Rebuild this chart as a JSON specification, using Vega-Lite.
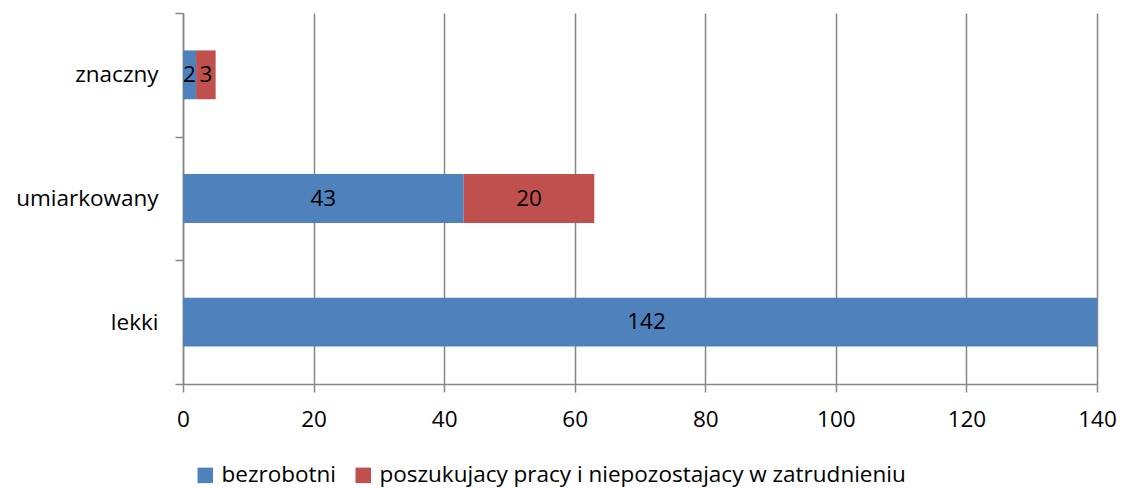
{
  "$schema": "https://vega.github.io/schema/vega-lite/v6.json",
  "width": 914,
  "height": 371,
  "autosize": {"type": "none"},
  "padding": {"left": 183, "top": 13, "right": 28, "bottom": 104},
  "config": {"font": "Open Sans", "view": {"stroke": null}},
  "data": {
    "values": [
      {"cat": "znaczny", "series": "bezrobotni", "value": 2},
      {"cat": "znaczny", "series": "poszukujacy pracy i niepozostajacy w zatrudnieniu", "value": 3},
      {"cat": "umiarkowany", "series": "bezrobotni", "value": 43},
      {"cat": "umiarkowany", "series": "poszukujacy pracy i niepozostajacy w zatrudnieniu", "value": 20},
      {"cat": "lekki", "series": "bezrobotni", "value": 142}
    ]
  },
  "transform": [
    {"stack": "value", "groupby": ["cat"], "sort": [{"field": "series", "order": "ascending"}], "as": ["v0", "v1"]},
    {"calculate": "(datum.v0 + datum.v1) / 2", "as": "vmid"}
  ],
  "encoding": {
    "y": {
      "field": "cat",
      "type": "nominal",
      "sort": ["znaczny", "umiarkowany", "lekki"],
      "scale": {"paddingInner": 0, "paddingOuter": 0},
      "axis": {
        "title": null,
        "tickBand": "extent",
        "grid": false,
        "domainColor": "#868686",
        "domainWidth": 1.5,
        "tickColor": "#868686",
        "tickWidth": 1.5,
        "tickSize": 8,
        "labelFontSize": 22.5,
        "labelColor": "#000000",
        "labelPadding": 17
      }
    }
  },
  "layer": [
    {
      "mark": {"type": "bar", "clip": true, "height": {"band": 0.395}},
      "encoding": {
        "x": {
          "field": "v0",
          "type": "quantitative",
          "scale": {"domain": [0, 140], "nice": false},
          "axis": {
            "title": null,
            "values": [0, 20, 40, 60, 80, 100, 120, 140],
            "grid": true,
            "gridColor": "#868686",
            "gridWidth": 1.5,
            "domainColor": "#868686",
            "domainWidth": 1.5,
            "tickColor": "#868686",
            "tickWidth": 1.5,
            "tickSize": 8,
            "labelFontSize": 22.5,
            "labelColor": "#000000",
            "labelPadding": 16,
            "labelFlush": false
          }
        },
        "x2": {"field": "v1"},
        "color": {
          "field": "series",
          "type": "nominal",
          "scale": {
            "domain": ["bezrobotni", "poszukujacy pracy i niepozostajacy w zatrudnieniu"],
            "range": ["#4F81BD", "#C0504D"]
          },
          "legend": {
            "title": null,
            "orient": "none",
            "direction": "horizontal",
            "legendX": 11,
            "legendY": 451,
            "padding": 0,
            "symbolType": "square",
            "symbolSize": 240,
            "symbolStrokeWidth": 0,
            "labelFontSize": 22.5,
            "labelColor": "#000000",
            "labelOffset": 5,
            "labelLimit": 800,
            "columnPadding": 16
          }
        }
      }
    },
    {
      "mark": {"type": "text", "fontSize": 22.5, "color": "#000000", "align": "center", "baseline": "middle"},
      "encoding": {
        "x": {"field": "vmid", "type": "quantitative"},
        "text": {"field": "value", "type": "quantitative"}
      }
    }
  ]
}
